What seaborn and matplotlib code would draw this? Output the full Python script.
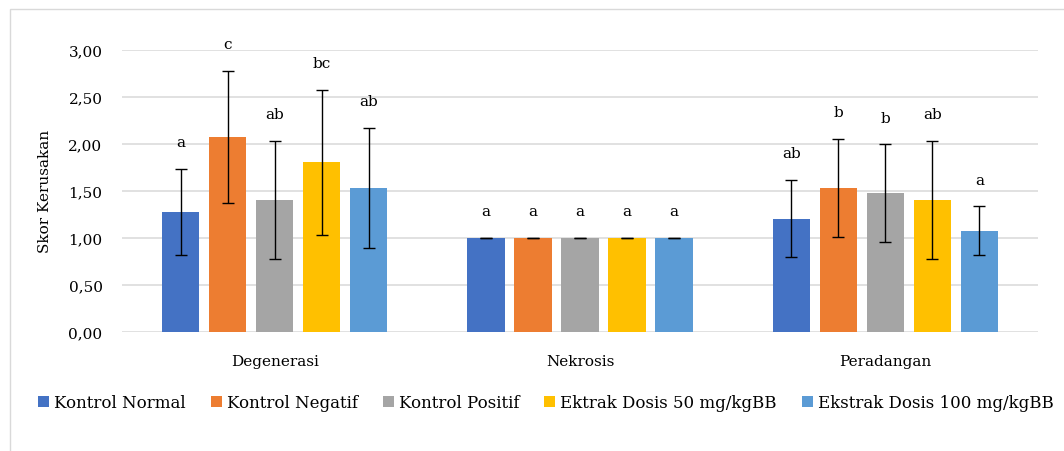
import numpy as np
import pandas as pd
import matplotlib
matplotlib.use("Agg")
import matplotlib.pyplot as plt
import seaborn as sns
from matplotlib.ticker import FuncFormatter, MultipleLocator
from matplotlib.patches import Rectangle

# ---------------- data ----------------
categories = ["Degenerasi", "Nekrosis", "Peradangan"]
groups = ["Kontrol Normal", "Kontrol Negatif", "Kontrol Positif",
          "Ektrak Dosis 50 mg/kgBB", "Ekstrak Dosis 100 mg/kgBB"]

kontrol_normal = [1.27, 1.00, 1.20]
kontrol_negatif = [2.07, 1.00, 1.53]
kontrol_positif = [1.40, 1.00, 1.47]
ekstrak_50 = [1.80, 1.00, 1.40]
ekstrak_100 = [1.53, 1.00, 1.07]

sd_kontrol_normal = [0.46, 0.00, 0.41]
sd_kontrol_negatif = [0.70, 0.00, 0.52]
sd_kontrol_positif = [0.63, 0.00, 0.52]
sd_ekstrak_50 = [0.77, 0.00, 0.63]
sd_ekstrak_100 = [0.64, 0.00, 0.26]

letters_kontrol_normal = ["a", "a", "ab"]
letters_kontrol_negatif = ["c", "a", "b"]
letters_kontrol_positif = ["ab", "a", "b"]
letters_ekstrak_50 = ["bc", "a", "ab"]
letters_ekstrak_100 = ["ab", "a", "a"]

colors = ["#4472C4", "#ED7D31", "#A5A5A5", "#FFC000", "#5B9BD5"]

values = [kontrol_normal, kontrol_negatif, kontrol_positif, ekstrak_50, ekstrak_100]
sds = [sd_kontrol_normal, sd_kontrol_negatif, sd_kontrol_positif, sd_ekstrak_50, sd_ekstrak_100]
letters = [letters_kontrol_normal, letters_kontrol_negatif, letters_kontrol_positif,
           letters_ekstrak_50, letters_ekstrak_100]

rows = []
for g, vals in zip(groups, values):
    for c, v in zip(categories, vals):
        rows.append({"Kategori": c, "Kelompok": g, "Skor": v})
df = pd.DataFrame(rows)

# ---------------- style ----------------
sns.set_style("white")
plt.rcParams["font.family"] = ["DejaVu Serif"]
plt.rcParams["text.color"] = "#000000"
plt.rcParams["axes.labelcolor"] = "#000000"
plt.rcParams["xtick.color"] = "#000000"
plt.rcParams["ytick.color"] = "#000000"

W, H = 1064, 452
fig = plt.figure(figsize=(W / 100, H / 100), dpi=100)
ax = fig.add_axes([122 / W, 1 - 332.5 / H, 916 / W, 282 / H])

sns.barplot(data=df, x="Kategori", y="Skor", hue="Kelompok",
            order=categories, hue_order=groups, palette=colors,
            saturation=1, width=0.77, gap=0.21, errorbar=None,
            linewidth=0, ax=ax)

# bars -> error bars and letters
bars = [(p.get_x() + p.get_width() / 2, p.get_height()) for p in ax.patches
        if p.get_width() > 0 and p.get_height() > 0]
by_cat = {}
for cx, h in bars:
    by_cat.setdefault(int(round(cx)), []).append((cx, h))
for ci in sorted(by_cat):
    items = sorted(by_cat[ci])
    for gi, (cx, h) in enumerate(items):
        e = sds[gi][ci]
        ax.errorbar([cx], [h], yerr=[e], fmt="none", ecolor="black",
                    elinewidth=1.0, capsize=4, capthick=1.0, zorder=5)
        ax.text(cx, h + e + 0.21, letters[gi][ci], ha="center", va="bottom",
                fontsize=11, clip_on=False)

ax.set_ylim(0, 3)
ax.set_xlim(-0.5, 2.5)
ax.yaxis.set_major_locator(MultipleLocator(0.5))
ax.yaxis.set_major_formatter(FuncFormatter(lambda v, p: f"{v:.2f}".replace(".", ",")))
ax.grid(axis="y", color="#d9d9d9", linewidth=1.1)
ax.grid(axis="x", visible=False)
ax.set_axisbelow(True)
for s in ax.spines.values():
    s.set_visible(False)
ax.tick_params(axis="y", length=0, pad=14, labelsize=11, labelcolor="black")
ax.tick_params(axis="x", length=0, pad=16, labelsize=11, labelcolor="black")
ax.set_xlabel("")
ax.set_ylabel("Skor Kerusakan", fontsize=11, labelpad=12, color="black")

sns.move_legend(ax, "center", bbox_to_anchor=(546 / W, 1 - 404 / H),
                bbox_transform=fig.transFigure, ncol=5, title=None,
                frameon=False, fontsize=12, handlelength=0.66,
                handleheight=0.66, handletextpad=0.3, columnspacing=1.5)

fig.patches.append(Rectangle((10 / W, -0.1), 1.2, 1.1 - 10 / H,
                             transform=fig.transFigure, fill=False,
                             edgecolor="#d9d9d9", linewidth=1.0))

fig.savefig("out.png", dpi=100)
